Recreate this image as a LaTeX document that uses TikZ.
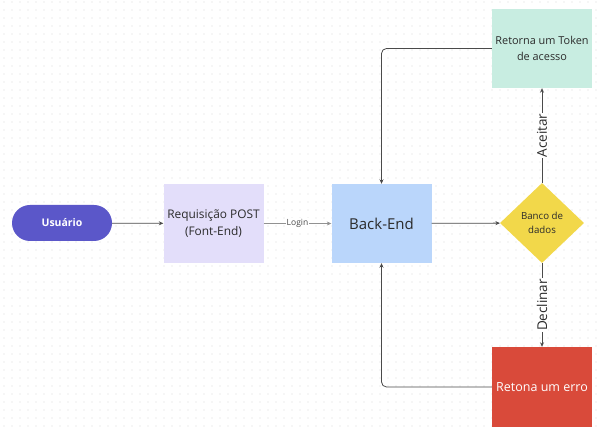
\documentclass[tikz,border=0pt]{standalone}
\usepackage{fontspec}
\setmainfont{Open Sans}
\usetikzlibrary{shapes.geometric,arrows.meta}

\definecolor{roxo}{HTML}{5B57C9}
\definecolor{lilas}{HTML}{E3DEFA}
\definecolor{azulclaro}{HTML}{BAD6FB}
\definecolor{amarelo}{HTML}{F2D84A}
\definecolor{verdeagua}{HTML}{C8EDE1}
\definecolor{vermelho}{HTML}{D94A3A}
\definecolor{linha}{HTML}{4A4A4A}
\definecolor{texto}{HTML}{2B2B2B}
\definecolor{ponto}{HTML}{DADADA}

\tikzset{
  caixa/.style={rectangle, inner sep=2pt, align=center, text=texto,
    minimum width=100pt, minimum height=79pt},
  seta/.style={draw=linha, line width=0.8pt, -{Stealth[length=4.5pt,width=4pt]}},
  rotulo/.style={fill=white, inner sep=1pt, text=texto}
}

\begin{document}
\begin{tikzpicture}[x=1pt, y=1pt]
  \useasboundingbox (0, 0) rectangle (601, 428);
  \fill[white] (0, 0) rectangle (601, 428);
  % dotted background
  \foreach \i in {0, ..., 75} {
    \foreach \j in {0, ..., 53} {
      \fill[ponto] ({4+8*\i}, {2+8*\j}) circle (0.6pt);
    }
  }

  \node[rectangle, rounded corners=18pt, fill=roxo, text=white,
    minimum width=100pt, minimum height=36pt, font=\bfseries\fontsize{10.5}{12}\selectfont]
    (usuario) at (62, 205) {Usuário};
  \node[caixa, fill=lilas, font=\fontsize{11.9}{17}\selectfont]
    (requisicao) at (213.5, 204.5) {Requisição POST\\(Font-End)};
  \node[caixa, fill=azulclaro, font=\fontsize{15}{18}\selectfont]
    (backend) at (381.5, 204.5) {Back-End};
  \node[diamond, fill=amarelo, inner sep=0pt, minimum width=84pt, minimum height=80pt,
    align=center, text=texto, font=\fontsize{9.7}{14}\selectfont]
    (banco) at (542, 205) {Banco de\\dados};
  \node[caixa, fill=verdeagua, font=\fontsize{10.9}{16}\selectfont]
    (token) at (542, 379.5) {Retorna um Token\\de acesso};
  \node[caixa, fill=vermelho, text=white, minimum height=80pt, font=\fontsize{12.5}{14}\selectfont]
    (erro) at (542, 41) {Retona um erro};

  \draw[seta] (usuario) -- (requisicao);
  \draw[seta, draw=linha!60, line width=0.6pt] (requisicao) --
    node[rotulo, text=linha, font=\fontsize{8.5}{9}\selectfont] (login) {Login} (backend);
  \draw[seta] (backend) -- (banco);
  \draw[seta] (banco.north) --
    node[rotulo, rotate=90, font=\fontsize{13.5}{14}\selectfont] (aceitar) {Aceitar} (token.south);
  \draw[seta] (banco.south) --
    node[rotulo, rotate=90, font=\fontsize{13.5}{14}\selectfont] (declinar) {Declinar} (erro.north);
  \draw[seta, rounded corners=5pt] (token.west) -| (backend.north);
  \draw[seta, rounded corners=5pt] (erro.west) -| (backend.south);
\end{tikzpicture}
\end{document}
